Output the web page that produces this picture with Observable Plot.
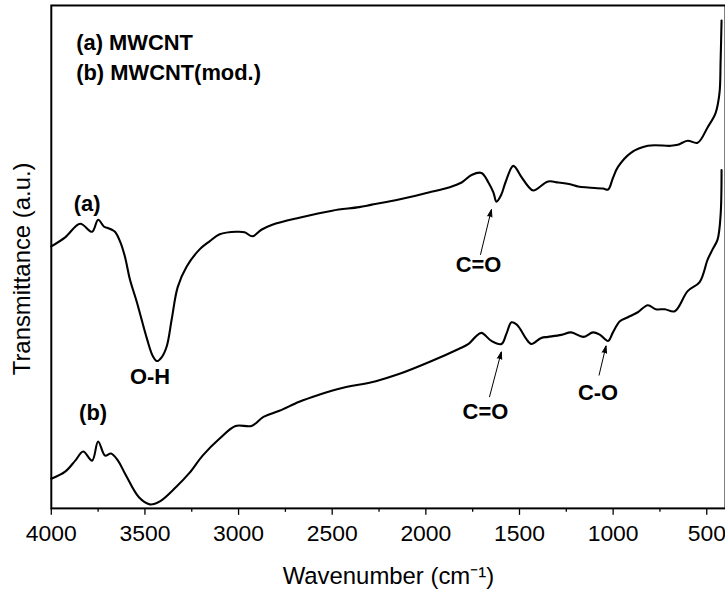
<!DOCTYPE html>
<html><head><meta charset="utf-8">
<script src="https://cdn.jsdelivr.net/npm/d3@7"></script>
<script src="https://cdn.jsdelivr.net/npm/@observablehq/plot@0.6"></script>
<style>html,body{margin:0;padding:0;background:#fff;overflow:hidden}</style>
</head><body><div id="chart"></div><script>
// Curve (a) MWCNT
const wnA = [4000,3926,3846,3782,3750,3718,3702,3676,3660,3633,3607,3580,3543,3489,3458,3436,3410,3383,3357,3325,3277,3208,3155,3101,3011,2968,2926,2878,2820,2676,2500,2357,2288,2144,1985,1878,1809,1756,1703,1666,1639,1623,1597,1575,1533,1490,1453,1426,1347,1293,1224,1187,1134,1054,1027,1001,974,905,815,692,655,602,549,495,453,432,426,421];
const trA = [52.1,53.9,56.6,55.0,57.4,56.0,55.8,55.4,55.0,53.1,50.1,45.5,41.0,33.7,30.3,29.3,30.1,32.3,37.6,44.0,48.1,51.5,53.1,54.5,55.0,54.9,54.1,55.4,56.4,57.8,59.2,59.9,60.4,61.4,62.8,63.8,64.8,66.3,66.7,64.8,62.8,61.0,62.4,64.8,68.1,65.9,64.0,63.2,65.0,64.8,64.4,64.0,63.8,63.6,63.4,65.7,67.9,70.7,72.1,72.1,72.3,73.1,72.7,75.8,78.6,82.6,89.1,97.0];
// Curve (b) MWCNT(mod.)
const wnB = [4000,3926,3872,3830,3782,3750,3713,3681,3644,3606,3532,3474,3420,3335,3261,3192,3101,3016,2931,2867,2782,2676,2570,2463,2267,2144,1969,1825,1772,1735,1703,1650,1596,1570,1543,1516,1495,1464,1437,1384,1347,1277,1224,1160,1107,1070,1027,1001,964,921,868,815,772,724,671,602,538,495,469,442,426,421];
const trB = [5.9,7.3,9.5,11.3,9.5,13.3,10.5,10.9,9.5,6.9,2.2,0.8,1.4,4.2,7.1,10.5,13.9,16.4,16.4,18.2,19.4,21.2,22.6,23.8,25.3,26.7,29.3,31.7,32.7,34.1,34.9,33.3,32.7,34.7,37.0,36.6,35.6,33.7,32.7,33.9,34.1,34.5,35.0,34.1,35.0,34.5,33.3,35.0,37.2,38.0,39.0,40.4,39.6,39.6,39.2,43.2,45.0,49.5,51.5,53.5,58.4,67.3];

const majorTicks = [4000,3500,3000,2500,2000,1500,1000,500];
const minorTicks = [3750,3250,2750,2250,1750,1250,750];

// Annotations
const legendText = ["(a) MWCNT","(b) MWCNT(mod.)"];
const legendW = [3867,3867];
const legendT = [92.5,86.5];
const noteText = ["(a)","(b)","O-H","C=O","C=O","C-O"];
const noteW = [3809,3777,3473,1719,1682,1081];
const noteT = [60.6,19.0,26.1,48.3,19.2,23.0];
const arrowW1 = [1708,1660,1075];
const arrowT1 = [50.5,22.2,26.5];
const arrowW2 = [1650,1597,1038];
const arrowT2 = [59.4,31.1,32.3];

const seriesA = wnA.map((w,i)=>({w, t:trA[i]}));
const seriesB = wnB.map((w,i)=>({w, t:trB[i]}));
const legend = legendText.map((s,i)=>({s, w:legendW[i], t:legendT[i]}));
const notes = noteText.map((s,i)=>({s, w:noteW[i], t:noteT[i]}));
const arrows = arrowW1.map((w,i)=>({w1:w, t1:arrowT1[i], w2:arrowW2[i], t2:arrowT2[i]}));

const narrow = "'Liberation Sans Narrow', 'Arial Narrow', 'Liberation Sans', Arial, sans-serif";

const chart = Plot.plot({
  width: 728, height: 593,
  marginLeft: 51, marginRight: 0, marginTop: 5, marginBottom: 83,
  style: {fontFamily: "'Liberation Sans', Arial, sans-serif", background: "white", color: "black"},
  x: {domain: [4000, 400]},
  y: {domain: [0, 100], axis: null},
  marks: [
    Plot.frame({stroke: "black", strokeWidth: 2}),
    Plot.axisX(minorTicks, {tickSize: 4, tickFormat: () => "", label: null, strokeWidth: 1.3}),
    Plot.axisX(majorTicks, {tickSize: 7, tickPadding: 9, tickFormat: d3.format("d"), fontSize: 23, fontFamily: narrow, label: null, strokeWidth: 1.3}),
    Plot.text(["Wavenumber (cm⁻¹)"], {frameAnchor: "bottom", lineAnchor: "middle", dy: 68, fontSize: 24}),
    Plot.text(["Transmittance (a.u.)"], {frameAnchor: "left", textAnchor: "middle", lineAnchor: "middle", rotate: -90, dx: -29, dy: 12, fontSize: 24}),
    Plot.line(seriesA, {x: "w", y: "t", stroke: "black", strokeWidth: 2.1, curve: "catmull-rom"}),
    Plot.line(seriesB, {x: "w", y: "t", stroke: "black", strokeWidth: 2.1, curve: "catmull-rom"}),
    Plot.text(legend, {x: "w", y: "t", text: "s", textAnchor: "start", fontWeight: "bold", fontSize: 22}),
    Plot.text(notes, {x: "w", y: "t", text: "s", fontWeight: "bold", fontSize: 22}),
    Plot.arrow(arrows, {x1: "w1", y1: "t1", x2: "w2", y2: "t2", stroke: "black", fill: "black", strokeWidth: 1, headLength: 11, headAngle: 35})
  ]
});
document.getElementById("chart").appendChild(chart);
</script></body></html>
